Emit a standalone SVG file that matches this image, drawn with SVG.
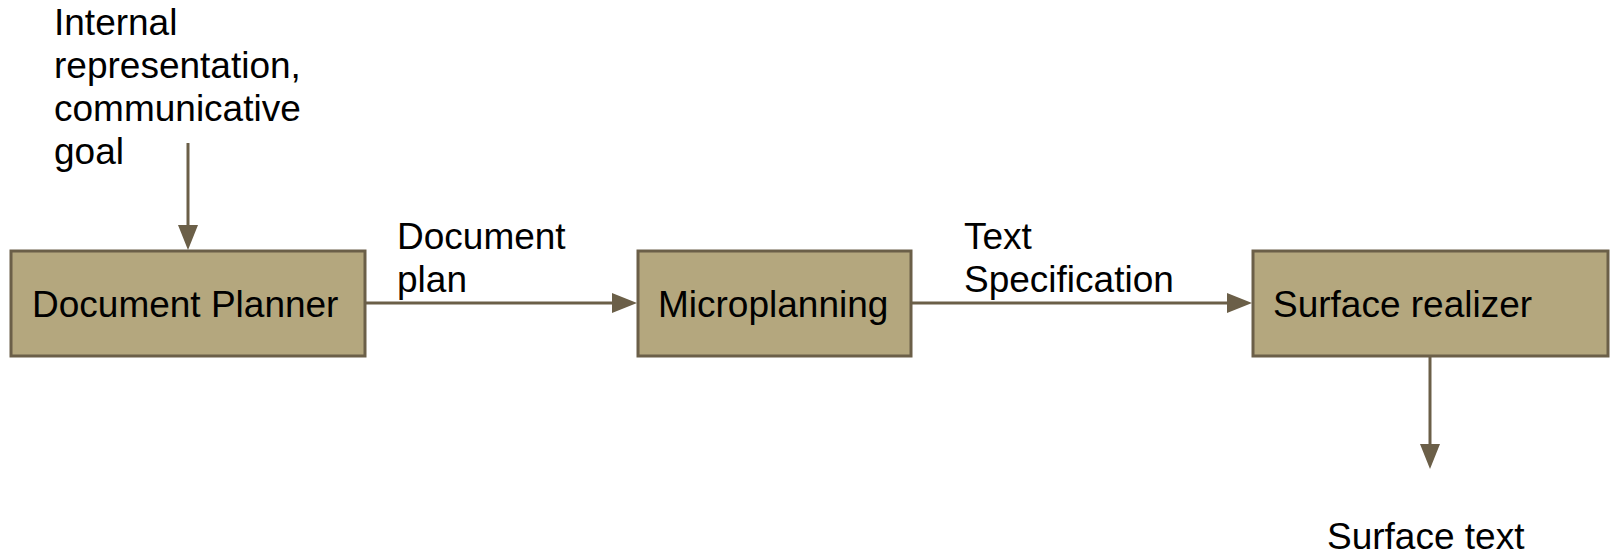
<svg xmlns="http://www.w3.org/2000/svg" width="1612" height="555" viewBox="0 0 1612 555">
  <style>
    .box { fill: #b4a77e; stroke: #6b5f48; stroke-width: 3; }
    .lbl { font-family: "Liberation Sans", Arial, sans-serif; font-size: 37px; fill: #000; }
    .conn { stroke: #6b5f48; stroke-width: 3; fill: none; marker-end: url(#arrow); }
  </style>
  <defs>
    <marker id="arrow" markerUnits="userSpaceOnUse" markerWidth="26" markerHeight="20" refX="5" refY="10" orient="auto">
      <path d="M0,0 L25,10 L0,20 z" fill="#6b5f48"/>
    </marker>
  </defs>
  <rect width="1612" height="555" fill="#ffffff"/>

  <g id="connectors">
    <line class="conn" x1="188" y1="143" x2="188" y2="230"/>
    <line class="conn" x1="366" y1="303" x2="617" y2="303"/>
    <line class="conn" x1="912" y1="303" x2="1232" y2="303"/>
    <line class="conn" x1="1430" y1="357" x2="1430" y2="449"/>
  </g>

  <g id="input-label">
    <text class="lbl" x="54" y="35">Internal</text>
    <text class="lbl" x="54" y="78">representation,</text>
    <text class="lbl" x="54" y="121">communicative</text>
    <text class="lbl" x="54" y="164">goal</text>
  </g>

  <g id="document-planner">
    <rect class="box" x="11" y="251" width="354" height="105"/>
    <text class="lbl" x="32" y="317">Document Planner</text>
  </g>

  <g id="document-plan-label">
    <text class="lbl" x="397" y="249">Document</text>
    <text class="lbl" x="397" y="292">plan</text>
  </g>

  <g id="microplanning">
    <rect class="box" x="638" y="251" width="273" height="105"/>
    <text class="lbl" x="658" y="317">Microplanning</text>
  </g>

  <g id="text-spec-label">
    <text class="lbl" x="964" y="249">Text</text>
    <text class="lbl" x="964" y="292">Specification</text>
  </g>

  <g id="surface-realizer">
    <rect class="box" x="1253" y="251" width="355" height="105"/>
    <text class="lbl" x="1273" y="317">Surface realizer</text>
  </g>

  <g id="surface-text-label">
    <text class="lbl" x="1327" y="549">Surface text</text>
  </g>
</svg>
